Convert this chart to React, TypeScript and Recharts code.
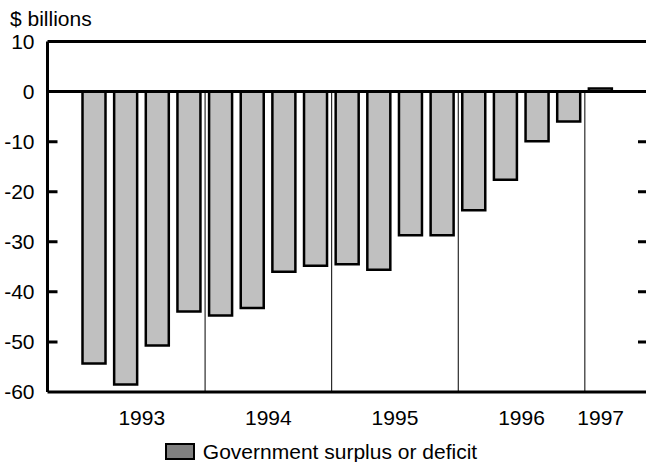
import {
  Bar,
  BarChart,
  Legend,
  ReferenceLine,
  XAxis,
  YAxis,
} from "recharts";

const quarters = [
  "1993Q1", "1993Q2", "1993Q3", "1993Q4",
  "1994Q1", "1994Q2", "1994Q3", "1994Q4",
  "1995Q1", "1995Q2", "1995Q3", "1995Q4",
  "1996Q1", "1996Q2", "1996Q3", "1996Q4",
  "1997Q1",
];
const surplus = [
  -54.3, -58.5, -50.7, -43.9,
  -44.7, -43.2, -36.0, -34.8,
  -34.5, -35.6, -28.7, -28.7,
  -23.7, -17.6, -9.9, -6.0,
  0.6,
];
const yTicks = [10, 0, -10, -20, -30, -40, -50, -60];
const sideTicks = [-10, -20, -30, -40, -50];
const yearStarts = ["1994Q1", "1995Q1", "1996Q1", "1997Q1"];
const Y_MIN = -60;
const Y_MAX = 10;

const data = quarters.map((q, i) => ({ q, value: surplus[i] }));

const FONT = "'Liberation Sans', Arial, sans-serif";

// chart box
const W = 646;
const H = 462;
const M_TOP = 41.5;
const Y_W = 47.5;
const X_H = 36;
const LEG_H = 34;
const PLOT_BOTTOM = H - X_H - LEG_H;

const yPix = (v: number) =>
  M_TOP + ((Y_MAX - v) / (Y_MAX - Y_MIN)) * (PLOT_BOTTOM - M_TOP);

// year label sits in the middle of its quarters
const YearTick = (props: any) => {
  const { payload } = props;
  const x = Number(props.x);
  const y = Number(props.y);
  const [yr, qn] = String(payload.value).split("Q");
  const count = quarters.filter((s) => s.startsWith(yr)).length;
  const half = payload.offset ? Number(payload.offset) : 15.8;
  let tx: number | null = null;
  if (count === 4 && qn === "2") tx = x + half;
  if (count === 1) tx = x;
  if (tx === null) return null;
  return (
    <text x={tx} y={y} dy="0.71em" textAnchor="middle" fontSize={21} fontFamily={FONT} fill="#000">
      {yr}
    </text>
  );
};

const LegendBox = () => (
  <div
    style={{
      display: "flex",
      justifyContent: "center",
      alignItems: "center",
      marginTop: 15,
      marginLeft: -4,
      fontFamily: FONT,
      fontSize: 21,
      color: "#000",
      lineHeight: "17px",
    }}
  >
    <span
      style={{
        display: "inline-block",
        width: 26,
        height: 13,
        background: "#808080",
        border: "2px solid #000",
        marginRight: 8,
      }}
    />
    <span>Government surplus or deficit</span>
  </div>
);

// inward tick marks on both sides of the frame
const FrameTicks = () => {
  const left = sideTicks.map((v) => `M${Y_W - 1},${yPix(v)}H${Y_W + 10}`).join("");
  const right = sideTicks.map((v) => `M${W - 8},${yPix(v)}H${W}`).join("");
  return (
    <svg
      width={W}
      height={H}
      viewBox={`0 0 ${W} ${H}`}
      style={{ position: "absolute", left: 0, top: 0, zIndex: 10, pointerEvents: "none", overflow: "visible" }}
    >
      <path d={left} stroke="#000" strokeWidth={3} fill="none" />
      <path d={right} stroke="#000" strokeWidth={3} fill="none" />
    </svg>
  );
};

export default function App() {
  return (
    <div style={{ position: "absolute", left: 0, top: 0, width: W, height: H, background: "#fff" }}>
      <div
        style={{
          position: "absolute",
          left: 10,
          top: 8,
          fontFamily: FONT,
          fontSize: 21,
          lineHeight: "21px",
          color: "#000",
          whiteSpace: "nowrap",
        }}
      >
        $ billions
      </div>
      <BarChart
        width={W}
        height={H}
        data={data}
        margin={{ top: M_TOP, right: 0, bottom: 0, left: 0 }}
      >
        <XAxis
          dataKey="q"
          interval={0}
          tick={<YearTick />}
          tickLine={false}
          tickSize={0}
          tickMargin={18}
          height={X_H}
          padding={{ left: 31, right: 29.5 }}
          axisLine={{ stroke: "#000", strokeWidth: 3 }}
        />
        <YAxis
          yAxisId="left"
          domain={[Y_MIN, Y_MAX]}
          ticks={yTicks}
          interval={0}
          width={Y_W}
          tickSize={0}
          tickMargin={13}
          tickLine={false}
          tick={{ fill: "#000", fontSize: 21, fontFamily: FONT }}
          axisLine={{ stroke: "#000", strokeWidth: 3 }}
        />
        <Legend verticalAlign="bottom" height={LEG_H} content={<LegendBox />} />
        <Bar
          yAxisId="left"
          dataKey="value"
          name="Government surplus or deficit"
          fill="#c0c0c0"
          stroke="#000"
          strokeWidth={2.5}
          barSize={23}
          isAnimationActive={false}
        />
        {yearStarts.map((s) => (
          <ReferenceLine
            key={s}
            yAxisId="left"
            segment={[
              { x: s, y: 0 },
              { x: s, y: Y_MIN },
            ]}
            position="start"
            stroke="#000"
            strokeWidth={1}
          />
        ))}
        <ReferenceLine yAxisId="left" y={Y_MAX} stroke="#000" strokeWidth={3} />
        <ReferenceLine yAxisId="left" y={0} stroke="#000" strokeWidth={3} />
      </BarChart>
      <FrameTicks />
    </div>
  );
}
